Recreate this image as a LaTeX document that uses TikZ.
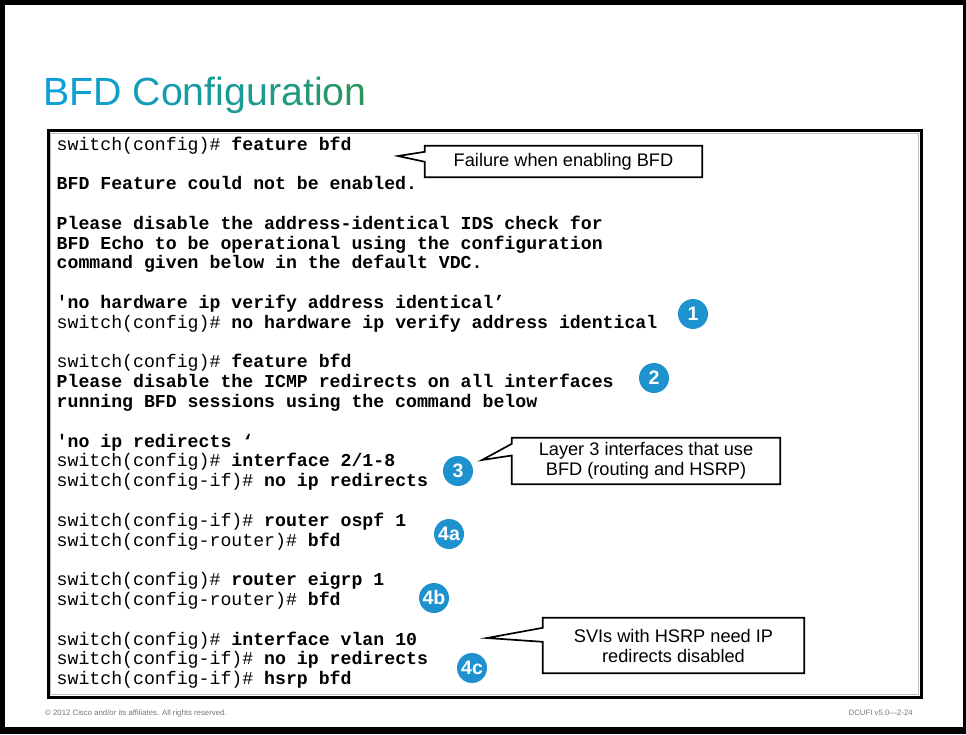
\documentclass[tikz,border=0pt]{standalone}
\usepackage{fontspec}
\setmainfont{Liberation Sans}
\newfontfamily\codefont{Liberation Mono}
\usetikzlibrary{calc}
\definecolor{tL}{RGB}{10,160,215}
\definecolor{tR}{RGB}{42,150,92}
\definecolor{badge}{RGB}{30,146,206}
\definecolor{foot}{RGB}{120,120,120}
\newcommand{\tc}[2]{\textcolor{tR!#1!tL}{#2}}
\newcommand{\pr}[1]{{\codefont\mdseries #1}}
\newcommand{\cm}[1]{{\codefont\bfseries #1}}
\tikzset{
  code/.style={anchor=base west, inner sep=0pt, font=\codefont\fontsize{18.2}{19.8}\selectfont},
  badgec/.style={circle, fill=badge, minimum size=30pt, inner sep=0pt, text=white, font=\bfseries\fontsize{19.5}{19.5}\selectfont},
  calltext/.style={align=center, inner sep=0pt, font=\fontsize{18.2}{20}\selectfont},
  callline/.style={draw=black, line width=1.7pt, line join=miter},
  footer/.style={inner sep=0pt, text=foot, font=\fontsize{7.8}{9}\selectfont},
}
\begin{document}
\begin{tikzpicture}[x=1pt,y=-1pt]
\useasboundingbox (0,0) rectangle (966,734);
% outer frame
\fill[black] (0,0) rectangle (966,734);
\fill[white] (5,5) rectangle (963,727);
% title
\node[anchor=base west, inner sep=0pt, font=\fontsize{39.3}{39}\selectfont] (title) at (43,105)
 {\tc{0}{B}\tc{6}{F}\tc{12}{D} \tc{27}{C}\tc{35}{o}\tc{41}{n}\tc{46}{f}\tc{49}{i}\tc{53}{g}\tc{60}{u}\tc{66}{r}\tc{71}{a}\tc{77}{t}\tc{82}{i}\tc{90}{o}\tc{100}{n}};
% code box
\draw[black!25, line width=0.8pt] (50.5,133.5) rectangle (918.5,694.5);
\draw[black, line width=3pt] (48,130.5) rectangle (921,697);
% code lines
\node[code] (l0)  at (56.5,150)   {\pr{switch(config)\#} \cm{feature bfd}};
\node[code] (l2)  at (56.5,189.6) {\cm{BFD Feature could not be enabled.}};
\node[code] (l4)  at (56.5,229.2) {\cm{Please disable the address-identical IDS check for}};
\node[code] (l5)  at (56.5,249)   {\cm{BFD Echo to be operational using the configuration}};
\node[code] (l6)  at (56.5,268.8) {\cm{command given below in the default VDC.}};
\node[code] (l8)  at (56.5,308.4) {\cm{'no hardware ip verify address identical’}};
\node[code] (l9)  at (56.5,328.2) {\pr{switch(config)\#} \cm{no hardware ip verify address identical}};
\node[code] (l11) at (56.5,367.8) {\pr{switch(config)\#} \cm{feature bfd}};
\node[code] (l12) at (56.5,387.6) {\cm{Please disable the ICMP redirects on all interfaces}};
\node[code] (l13) at (56.5,407.4) {\cm{running BFD sessions using the command below}};
\node[code] (l15) at (56.5,447)   {\cm{'no ip redirects ‘}};
\node[code] (l16) at (56.5,466.8) {\pr{switch(config)\#} \cm{interface 2/1-8}};
\node[code] (l17) at (56.5,486.6) {\pr{switch(config-if)\#} \cm{no ip redirects}};
\node[code] (l19) at (56.5,526.2) {\pr{switch(config-if)\#} \cm{router ospf 1}};
\node[code] (l20) at (56.5,546)   {\pr{switch(config-router)\#} \cm{bfd}};
\node[code] (l22) at (56.5,585.6) {\pr{switch(config)\#} \cm{router eigrp 1}};
\node[code] (l23) at (56.5,605.4) {\pr{switch(config-router)\#} \cm{bfd}};
\node[code] (l25) at (56.5,645)   {\pr{switch(config)\#} \cm{interface vlan 10}};
\node[code] (l26) at (56.5,664.8) {\pr{switch(config-if)\#} \cm{no ip redirects}};
\node[code] (l27) at (56.5,684.6) {\pr{switch(config-if)\#} \cm{hsrp bfd}};
% callouts
\node[calltext, minimum width=277pt, minimum height=31pt] (c1) at (563.5,161.5) {Failure when enabling BFD};
\coordinate (t1) at (398,156);
\draw[callline] (c1.north west) -- (c1.north east) -- (c1.south east) -- (c1.south west)
  -- ($(c1.north west)+(0,16)$) -- (t1) -- ($(c1.north west)+(0,6)$) -- cycle;
\node[calltext, minimum width=268pt, minimum height=46pt] (c2) at (646,461) {Layer 3 interfaces that use\\BFD (routing and HSRP)};
\coordinate (t2) at (482,460);
\draw[callline] (c2.north west) -- (c2.north east) -- (c2.south east) -- (c2.south west)
  -- ($(c2.north west)+(0,17.7)$) -- (t2) -- ($(c2.north west)+(0,6)$) -- cycle;
\node[calltext, minimum width=261pt, minimum height=55pt] (c3) at (673.5,645.5) {SVIs with HSRP need IP\\redirects disabled};
\coordinate (t3) at (487,638);
\draw[callline] (c3.north west) -- (c3.north east) -- (c3.south east) -- (c3.south west)
  -- ($(c3.north west)+(0,24)$) -- (t3) -- ($(c3.north west)+(0,10)$) -- cycle;
% badges
\node[badgec] (b1)  at (693,314) {1};
\node[badgec] (b2)  at (654,378) {2};
\node[badgec] (b3)  at (458,471) {3};
\node[badgec] (b4a) at (449,534) {4a};
\node[badgec] (b4b) at (434,598) {4b};
\node[badgec] (b4c) at (472,668) {4c};
% footer
\node[footer, anchor=base west] (fl) at (45,715) {© 2012 Cisco and/or its affiliates. All rights reserved.};
\node[footer, anchor=base east] (fr) at (913,715) {DCUFI v5.0—2-24};
\end{tikzpicture}
\end{document}
